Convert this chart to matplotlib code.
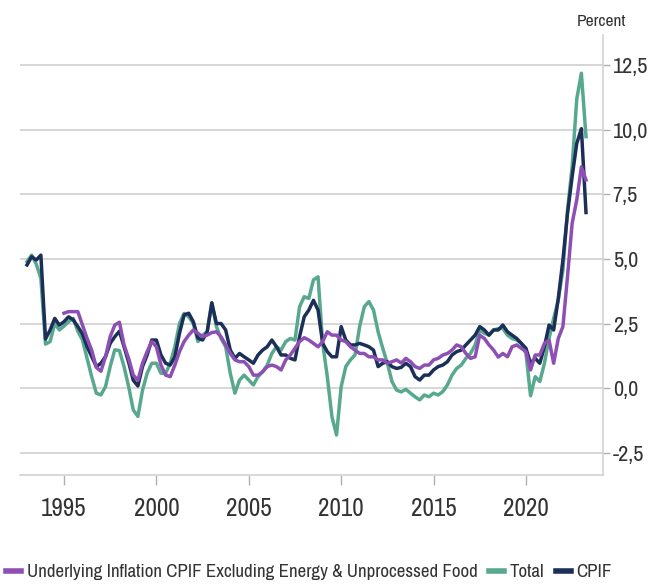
import numpy as np
import matplotlib
matplotlib.use("Agg")
import matplotlib.pyplot as plt
from matplotlib.ticker import FuncFormatter, FixedLocator

plt.rcParams['font.family'] = ['Archivo Narrow', 'Liberation Sans', 'DejaVu Sans']

# quarterly observations, Jan 1993 .. Apr 2023
dates = np.arange(1993.0, 2023.26, 0.25)

total = [
    4.9, 5.15, 4.8, 4.25,
    1.7, 1.8, 2.5, 2.25,
    2.4, 2.57, 2.7, 2.2,
    1.86, 1.15, 0.44, -0.2,
    -0.27, 0.06, 0.83, 1.48,
    1.45, 0.83, 0.05, -0.85,
    -1.1, -0.08, 0.57, 0.96,
    0.96, 0.57, 0.57, 0.96,
    1.6, 2.5, 2.89, 2.76,
    2.5, 1.8, 2.05, 2.18,
    3.3, 2.38, 1.92, 1.6,
    0.57, -0.2, 0.31, 0.5,
    0.31, 0.12, 0.44, 0.63,
    0.89, 1.34, 1.6, 1.47,
    1.8, 1.92, 1.86, 3.15,
    3.54, 3.47, 4.19, 4.31,
    1.73, 0.44, -1.11, -1.82,
    0.05, 0.83, 1.09, 1.28,
    2.38, 3.15, 3.35, 3.02,
    2.18, 1.54, 0.96, 0.25,
    -0.08, -0.15, -0.05, -0.2,
    -0.34, -0.46, -0.27, -0.34,
    -0.2, -0.27, -0.14, 0.12,
    0.5, 0.76, 0.89, 1.15,
    1.34, 1.67, 2.25, 2.12,
    2.05, 2.25, 2.3, 2.31,
    2.05, 1.92, 1.86, 1.73,
    1.34, -0.3, 0.44, 0.25,
    0.96, 1.92, 2.7, 3.41,
    4.57, 6.9, 8.58, 11.2,
    12.2, 9.74,
]

cpif = [
    4.77, 5.09, 4.96, 5.15,
    1.9, 2.25, 2.7, 2.44,
    2.57, 2.76, 2.64, 2.38,
    2.1, 1.6, 1.22, 0.83,
    0.96, 1.22, 1.73, 1.99,
    2.2, 1.6, 1.0, 0.3,
    0.08, 0.83, 1.28, 1.86,
    1.86, 1.28, 0.96, 0.89,
    1.21, 2.12, 2.83, 2.9,
    2.57, 1.93, 1.86, 2.18,
    3.3, 2.5, 2.5, 2.25,
    1.47, 1.15, 1.34, 1.21,
    1.09, 0.96, 1.28, 1.47,
    1.6, 1.86, 1.6, 1.28,
    1.28, 1.15, 1.09, 1.99,
    2.76, 3.02, 3.4, 3.02,
    1.73, 1.41, 1.21, 1.21,
    2.38, 1.86, 1.67, 1.67,
    1.73, 1.67, 1.6, 1.47,
    0.83, 0.96, 1.02, 0.83,
    0.76, 0.8, 0.96, 0.83,
    0.44, 0.31, 0.5, 0.5,
    0.7, 0.83, 0.89, 1.02,
    1.28, 1.41, 1.47, 1.67,
    1.86, 2.05, 2.38, 2.25,
    2.05, 2.25, 2.25, 2.44,
    2.18, 2.05, 1.92, 1.73,
    1.54, 0.96, 1.15, 0.96,
    1.6, 2.44, 2.25, 3.47,
    4.96, 6.77, 8.19, 9.48,
    10.05, 6.8,
]

underlying = [
    np.nan, np.nan, np.nan, np.nan,
    np.nan, np.nan, np.nan, np.nan,
    2.9, 2.96, 2.96, 2.96,
    2.44, 1.92, 1.47, 0.8,
    0.65, 1.22, 1.99, 2.44,
    2.55, 1.67, 1.15, 0.5,
    0.3, 0.96, 1.41, 1.8,
    1.6, 0.89, 0.5, 0.44,
    0.89, 1.41, 1.8, 2.05,
    2.25, 2.12, 1.99, 2.05,
    2.15, 2.18, 1.99, 1.67,
    1.34, 1.09, 1.02, 1.02,
    0.83, 0.5, 0.5, 0.63,
    0.83, 0.89, 0.83, 0.7,
    1.09, 1.28, 1.54, 1.8,
    1.95, 1.86, 1.73, 1.6,
    1.8, 2.18, 2.05, 2.05,
    1.86, 1.8, 1.6, 1.47,
    1.34, 1.34, 1.21, 1.21,
    1.09, 1.09, 0.96, 1.02,
    1.09, 0.97, 1.15, 1.02,
    0.83, 0.76, 0.89, 0.89,
    1.09, 1.15, 1.28, 1.34,
    1.47, 1.67, 1.6, 1.34,
    1.15, 1.21, 2.05, 1.92,
    1.67, 1.47, 1.2, 1.34,
    1.21, 1.6, 1.67, 1.54,
    1.41, 0.7, 1.28, 1.28,
    1.73, 1.86, 0.96, 1.92,
    2.38, 4.32, 6.38, 7.29,
    8.57, 8.06,
]

labels = ["Underlying Inflation CPIF Excluding Energy & Unprocessed Food", "Total", "CPIF"]
colors = ["#8e4fb4", "#57a88e", "#1c2f58"]
year_ticks = [1995, 2000, 2005, 2010, 2015, 2020]
y_ticks = [-2.5, 0.0, 2.5, 5.0, 7.5, 10.0, 12.5]

fig = plt.figure(figsize=(6.48, 5.87), dpi=100)
ax = fig.add_axes([20/648, 1-475/587, (603-20)/648, (475-35)/587])

ax.plot(dates, total, color=colors[1], lw=2.5, zorder=3, label=labels[1], solid_joinstyle='round')
ax.plot(dates, cpif, color=colors[2], lw=2.5, zorder=4, label=labels[2], solid_joinstyle='round')
ax.plot(dates, underlying, color=colors[0], lw=2.5, zorder=5, label=labels[0], solid_joinstyle='round')

ax.set_xlim(1992.62, 2024.17)
ax.set_ylim(-3.37, 13.68)

ax.yaxis.tick_right()
ax.yaxis.set_major_locator(FixedLocator(y_ticks))
ax.yaxis.set_major_formatter(FuncFormatter(lambda v, p: f"{v:.1f}".replace('.', ',')))
ax.xaxis.set_major_locator(FixedLocator(year_ticks))
ax.xaxis.set_major_formatter(FuncFormatter(lambda v, p: f"{int(round(v))}"))

ax.grid(axis='y', color='#d3d3d3', lw=1.3, zorder=0)
ax.set_axisbelow(True)
for s in ['top', 'left']:
    ax.spines[s].set_visible(False)
for s in ['right', 'bottom']:
    ax.spines[s].set_color('#d3d3d3')
    ax.spines[s].set_linewidth(1.2)

ax.tick_params(axis='y', which='major', direction='out', length=5, width=1, color='#b0b0b0',
               labelsize=16, labelcolor='#333333', pad=2)
ax.tick_params(axis='x', which='major', direction='out', length=7, width=1, color='#b0b0b0',
               labelsize=18, labelcolor='#333333', pad=9)

fig.text(577/648, 1-22/587, "Percent", ha='left', va='center', fontsize=12.5, color='#333333')

handles, labs = ax.get_legend_handles_labels()
order = [labs.index(l) for l in labels]
leg = fig.legend([handles[i] for i in order], [labs[i] for i in order],
                 loc='center left', bbox_to_anchor=(6/648, 1-572/587), ncol=3, frameon=False,
                 fontsize=13.6, handlelength=0.8, handletextpad=0.3, columnspacing=0.6,
                 borderaxespad=0, borderpad=0)
for line in leg.get_lines():
    line.set_linewidth(4)
for t in leg.get_texts():
    t.set_color('#333333')

fig.savefig("out.png", dpi=100)
